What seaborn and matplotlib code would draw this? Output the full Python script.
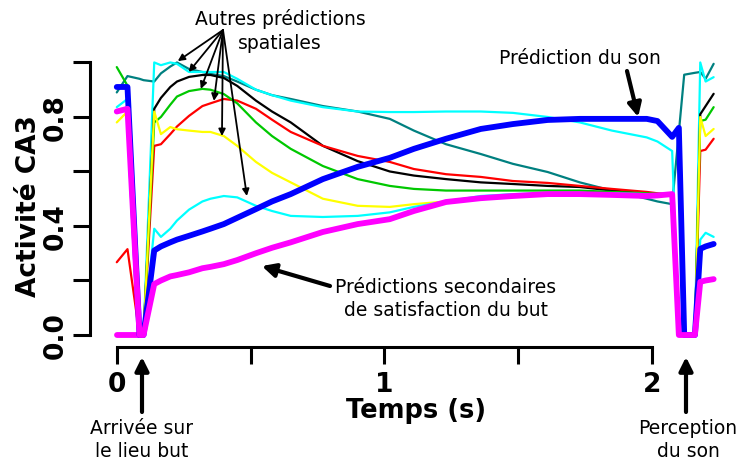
import numpy as np
import pandas as pd
import matplotlib
matplotlib.use("Agg")
import matplotlib.pyplot as plt
import seaborn as sns

nan = np.nan
# time points (s)
time_s = [0.00, 0.04, 0.085, 0.10, 0.14, 0.165, 0.20, 0.225, 0.27, 0.32, 0.35, 0.40, 0.45, 0.52,
          0.58, 0.65, 0.77, 0.90, 1.02, 1.11, 1.23, 1.36, 1.48, 1.61, 1.73, 1.85, 1.98, 2.02,
          2.075, 2.10, 2.12, 2.16, 2.18, 2.20, 2.23]

teal = [0.89, 0.95, 0.94, 0.935, 0.93, 0.96, 0.985, 1.0, 0.976, 0.965, 0.958, 0.95, 0.93, 0.90,
        0.88, 0.866, 0.84, 0.82, 0.793, 0.75, 0.70, 0.664, 0.628, 0.598, 0.56, 0.53, 0.50, 0.49,
        0.48, nan, 0.955, 0.962, 0.965, 0.94, 0.995]
cyan_high = [0.836, 0.866, 0.0, 0.0, 1.0, 0.99, 1.0, 0.995, 0.965, 0.965, 0.965, 0.965, 0.94, 0.90,
             0.88, 0.86, 0.836, 0.82, 0.818, 0.818, 0.82, 0.82, 0.815, 0.80, 0.78, 0.75, 0.725, 0.71,
             0.675, 0.0, 0.0, 0.0, 1.0, 0.93, 0.946]
black = [nan, nan, 0.0, 0.0, 0.83, 0.87, 0.91, 0.93, 0.947, 0.954, 0.954, 0.943, 0.914, 0.86,
         0.82, 0.78, 0.694, 0.638, 0.60, 0.585, 0.572, 0.56, 0.554, 0.547, 0.543, 0.53, 0.52, 0.517,
         0.515, 0.0, 0.0, 0.0, 0.81, 0.84, 0.885]
red = [0.267, 0.315, 0.0, 0.0, 0.694, 0.70, 0.737, 0.765, 0.804, 0.84, 0.85, 0.866, 0.86, 0.83,
       0.79, 0.745, 0.694, 0.657, 0.635, 0.609, 0.59, 0.58, 0.565, 0.558, 0.547, 0.536, 0.525, 0.52,
       0.514, 0.0, 0.0, 0.0, 0.675, 0.68, 0.72]
green = [0.983, 0.915, 0.0, 0.0, 0.78, 0.80, 0.845, 0.875, 0.895, 0.903, 0.90, 0.884, 0.85, 0.78,
         0.73, 0.683, 0.62, 0.572, 0.547, 0.536, 0.53, 0.53, 0.53, 0.53, 0.53, 0.525, 0.52, 0.518,
         0.517, 0.0, 0.0, 0.0, 0.785, 0.79, 0.836]
yellow = [0.78, 0.82, 0.0, 0.0, 0.82, 0.737, 0.763, 0.755, 0.75, 0.745, 0.745, 0.73, 0.694, 0.635,
          0.595, 0.56, 0.50, 0.474, 0.47, 0.48, 0.49, 0.505, 0.51, 0.515, 0.517, 0.517, 0.517, 0.517,
          0.517, 0.0, 0.0, 0.0, 0.80, 0.73, 0.756]
cyan_low = [nan, nan, 0.0, 0.0, 0.39, 0.36, 0.39, 0.42, 0.46, 0.49, 0.50, 0.51, 0.505, 0.474,
            0.455, 0.437, 0.433, 0.437, 0.45, 0.47, 0.49, 0.51, 0.517, 0.52, 0.52, 0.52, 0.517, 0.517,
            0.515, 0.0, 0.0, 0.0, 0.35, 0.375, 0.36]
blue = [0.91, 0.91, 0.0, 0.0, 0.31, 0.325, 0.34, 0.35, 0.364, 0.38, 0.39, 0.407, 0.43, 0.462,
        0.49, 0.517, 0.572, 0.617, 0.65, 0.683, 0.72, 0.756, 0.774, 0.789, 0.793, 0.793, 0.793, 0.785,
        0.727, 0.76, 0.0, 0.0, 0.316, 0.325, 0.334]
magenta = [0.82, 0.83, 0.0, 0.0, 0.187, 0.20, 0.215, 0.22, 0.23, 0.245, 0.25, 0.26, 0.275, 0.30,
           0.32, 0.34, 0.378, 0.407, 0.425, 0.455, 0.488, 0.502, 0.51, 0.517, 0.517, 0.514, 0.51, 0.512,
           0.517, 0.0, 0.0, 0.0, 0.195, 0.20, 0.205]
# short magenta trace lying at zero before arrival
magenta_start = [0.0, 0.0, 0.0] + [nan] * 32

series_names = ["magenta_start", "teal", "cyan_high", "black", "red", "green", "yellow",
                "cyan_low", "blue", "magenta"]
series_values = [magenta_start, teal, cyan_high, black, red, green, yellow, cyan_low, blue, magenta]

colors = {"magenta_start": "#ff00ff", "teal": "#008080", "cyan_high": "#00ffff", "black": "#000000",
          "red": "#ff0000", "green": "#00c800", "yellow": "#ffff00", "cyan_low": "#00ffff",
          "blue": "#0000ff", "magenta": "#ff00ff"}
widths = {n: 1.6 for n in series_names}
widths["blue"] = 4.2
widths["magenta"] = 4.2
widths["magenta_start"] = 4.2

frames = []
for n, v in zip(series_names, series_values):
    frames.append(pd.DataFrame({"t": time_s, "val": v, "serie": n}))
df = pd.concat(frames, ignore_index=True)

sns.set_style("white")
plt.rcParams["font.family"] = ["DejaVu Sans"]
plt.rcParams["text.color"] = "black"
plt.rcParams["axes.labelcolor"] = "black"
plt.rcParams["xtick.color"] = "black"
plt.rcParams["ytick.color"] = "black"

W, H = 737, 464
fig = plt.figure(figsize=(W / 100, H / 100), dpi=100)
ax = fig.add_axes([90 / W, 116 / H, 629 / W, 290 / H])

sns.lineplot(data=df, x="t", y="val", hue="serie", hue_order=series_names, palette=colors,
             size="serie", size_order=series_names, sizes=widths, estimator=None,
             legend=False, ax=ax)

ax.set_xlim(-0.1, 2.25)
ax.set_ylim(-0.044, 1.02)
for s in ["top", "right"]:
    ax.spines[s].set_visible(False)
ax.spines["left"].set_bounds(0, 1)
ax.spines["bottom"].set_bounds(0, 2)
for s in ["left", "bottom"]:
    ax.spines[s].set_linewidth(2.2)
    ax.spines[s].set_color("black")

ax.set_xticks([0, 0.5, 1, 1.5, 2])
ax.set_xticklabels(["0", "", "1", "", "2"])
ax.set_yticks([0, 0.2, 0.4, 0.6, 0.8, 1.0])
ax.set_yticklabels(["0.0", "", "0.4", "", "0.8", ""], rotation=90, va="center")
ax.tick_params(axis="both", direction="out", length=12, width=2.2, color="black",
               labelcolor="black", labelsize=19, bottom=True, left=True)
ax.tick_params(axis="x", pad=5)
ax.tick_params(axis="y", pad=3)
for lab in ax.get_xticklabels() + ax.get_yticklabels():
    lab.set_fontweight("bold")
ax.set_xlabel("")
ax.set_ylabel("")


def fp(x, y):
    return (x / W, 1 - y / H)


fig.text(*fp(416, 411), "Temps (s)", ha="center", va="center", fontsize=18.5, fontweight="bold")
fig.text(*fp(29, 206), "Activité CA3", ha="center", va="center", rotation=90,
         fontsize=19, fontweight="bold")

# annotations
fs = 13.5
fig.text(*fp(280, 31), "Autres prédictions\nspatiales", ha="center", va="center", fontsize=fs,
         linespacing=1.28)
thin = dict(arrowstyle="-|>", color="black", lw=1.3, mutation_scale=10, shrinkA=0, shrinkB=0)
for tx, ty in [(0.228, 1.005), (0.269, 0.965), (0.314, 0.903), (0.363, 0.859), (0.393, 0.73),
               (0.486, 0.51)]:
    ax.annotate("", xy=(tx, ty), xycoords="data", xytext=fp(223, 31), textcoords="figure fraction",
                arrowprops=thin, annotation_clip=False)

thick = dict(arrowstyle="-|>", color="black", lw=3, mutation_scale=20, shrinkA=0, shrinkB=0)
fig.text(*fp(580, 58), "Prédiction du son", ha="center", va="center", fontsize=fs)
ax.annotate("", xy=(1.948, 0.80), xycoords="data", xytext=fp(627, 72), textcoords="figure fraction",
            arrowprops=thick, annotation_clip=False)

fig.text(*fp(446, 299), "Prédictions secondaires\nde satisfaction du but", ha="center", va="center",
         fontsize=fs, linespacing=1.28)
ax.annotate("", xy=(0.542, 0.253), xycoords="data", xytext=fp(330, 287), textcoords="figure fraction",
            arrowprops=thick, annotation_clip=False)

fig.text(*fp(142, 440), "Arrivée sur\nle lieu but", ha="center", va="center", fontsize=fs,
         linespacing=1.28)
ax.annotate("", xy=fp(142, 358), xycoords="figure fraction", xytext=fp(142, 413),
            textcoords="figure fraction", arrowprops=thick, annotation_clip=False)

fig.text(*fp(688, 440), "Perception\ndu son", ha="center", va="center", fontsize=fs,
         linespacing=1.28)
ax.annotate("", xy=fp(686, 358), xycoords="figure fraction", xytext=fp(686, 413),
            textcoords="figure fraction", arrowprops=thick, annotation_clip=False)

fig.savefig("out.png", dpi=100)
